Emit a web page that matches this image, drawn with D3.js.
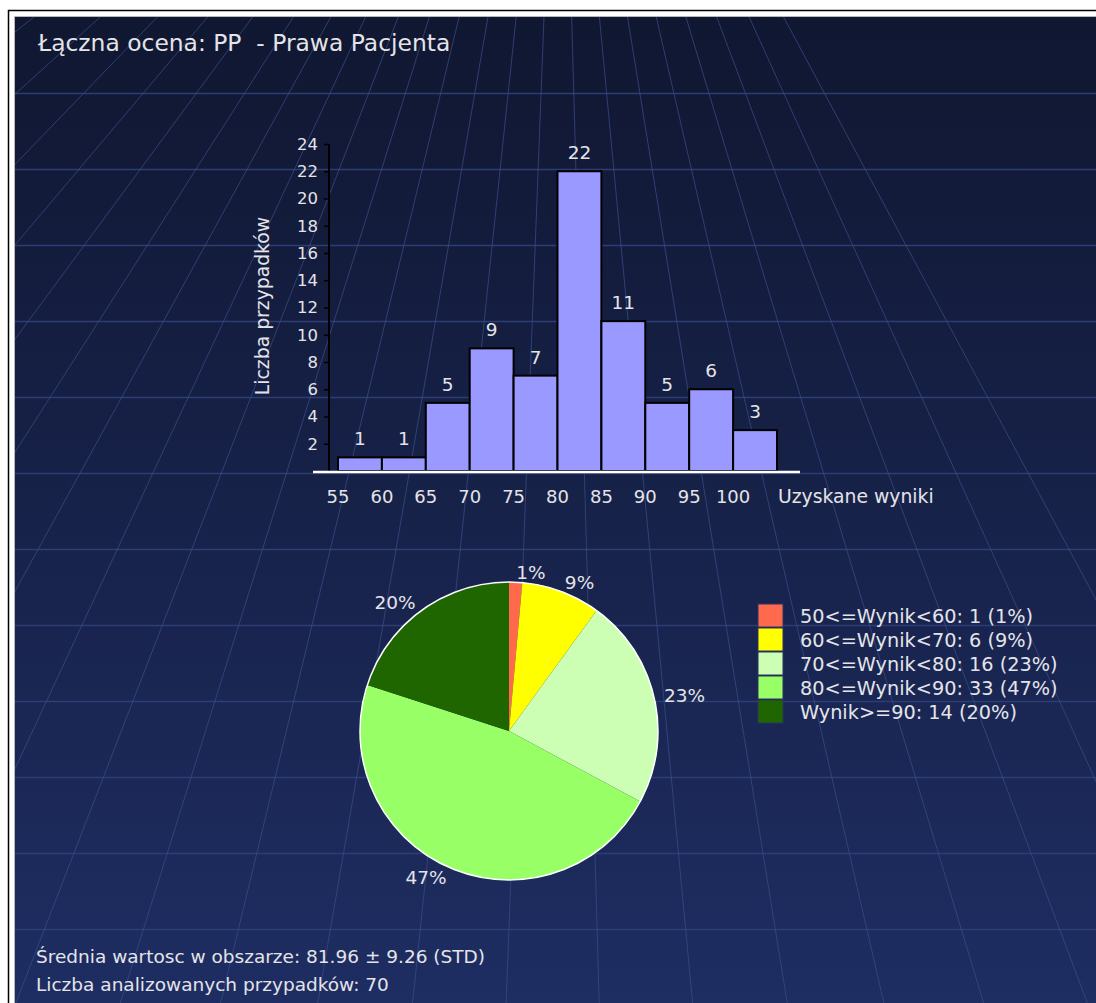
<!DOCTYPE html>
<html><head><meta charset="utf-8">
<script src="https://cdn.jsdelivr.net/npm/d3@7"></script>
<style>
html,body{margin:0;padding:0;background:#fff;}
svg{display:block;}
text{font-family:"DejaVu Sans",sans-serif;fill:#e4e4e8;}
</style>
</head><body>
<svg id="c" width="1096" height="1003"></svg>
<script>
// ---------- data ----------
const titleText = "Łączna ocena: PP  - Prawa Pacjenta";
const binStarts = [55, 60, 65, 70, 75, 80, 85, 90, 95, 100];
const binWidth = 5;
const counts = [1, 1, 5, 9, 7, 22, 11, 5, 6, 3];
const yTickValues = [2, 4, 6, 8, 10, 12, 14, 16, 18, 20, 22, 24];
const xTickLabels = ["55", "60", "65", "70", "75", "80", "85", "90", "95", "100"];
const xAxisTitle = "Uzyskane wyniki";
const yAxisTitle = "Liczba przypadków";
const pieCategories = ["50<=Wynik<60", "60<=Wynik<70", "70<=Wynik<80", "80<=Wynik<90", "Wynik>=90"];
const pieCounts = [1, 6, 16, 33, 14];
const piePercents = ["1%", "9%", "23%", "47%", "20%"];
const footerLines = ["Średnia wartosc w obszarze: 81.96 ± 9.26 (STD)", "Liczba analizowanych przypadków: 70"];

// ---------- setup ----------
const svg = d3.select("#c");
const W = 1096, H = 1003;
const panel = {x: 15, y: 17, w: W - 15, h: H - 17};

const defs = svg.append("defs");
const grad = defs.append("linearGradient").attr("id", "bg").attr("x1", 0).attr("y1", 0).attr("x2", 0).attr("y2", 1);
grad.append("stop").attr("offset", "0%").attr("stop-color", "#101731");
grad.append("stop").attr("offset", "100%").attr("stop-color", "#1e2d62");
defs.append("clipPath").attr("id", "pclip").append("rect")
  .attr("x", panel.x).attr("y", panel.y).attr("width", panel.w).attr("height", panel.h);

// frame
svg.append("rect").attr("x", panel.x).attr("y", panel.y).attr("width", panel.w).attr("height", panel.h).attr("fill", "url(#bg)");
svg.append("path").attr("d", `M8.5,${H}V10.5H${W}`).attr("fill", "none").attr("stroke", "#000").attr("stroke-width", 1.5);
svg.append("path").attr("d", `M14.5,${H}V16.5H${W}`).attr("fill", "none").attr("stroke", "#b8b8b8").attr("stroke-width", 1);

// background grid
const grid = svg.append("g").attr("clip-path", "url(#pclip)");
const hLines = d3.range(93, H, 76);
grid.selectAll("line.h").data(hLines).join("line")
  .attr("x1", panel.x).attr("x2", W).attr("y1", d => d + 0.5).attr("y2", d => d + 0.5)
  .attr("stroke", "#2c3e74").attr("stroke-width", 1.3);
const vp = {x: 560, y: -400};
const fanAngles = d3.range(-82, 32, 3.8);
grid.selectAll("line.f").data(fanAngles).join("line")
  .attr("x1", vp.x).attr("y1", vp.y)
  .attr("x2", a => vp.x + 4000 * Math.sin(a * Math.PI / 180))
  .attr("y2", a => vp.y + 4000 * Math.cos(a * Math.PI / 180))
  .attr("stroke", "#3a4f8c").attr("stroke-opacity", 0.7).attr("stroke-width", 1);

// title
svg.append("text").attr("x", 38).attr("y", 51).attr("font-size", 23.4)
  .attr("xml:space", "preserve").style("white-space", "pre").text(titleText);

// ---------- histogram ----------
const x = d3.scaleLinear().domain([55, 105]).range([338, 777]);
const y = d3.scaleLinear().domain([0, 24]).range([471, 144]);
const hist = svg.append("g");

// bars
hist.selectAll("rect.bar").data(binStarts).join("rect")
  .attr("x", d => x(d)).attr("width", d => x(d + binWidth) - x(d))
  .attr("y", (d, i) => y(counts[i])).attr("height", (d, i) => y(0) - y(counts[i]))
  .attr("fill", "#9999ff").attr("stroke", "#000").attr("stroke-width", 2);

// bar value labels
hist.selectAll("text.val").data(binStarts).join("text")
  .attr("x", d => x(d + binWidth / 2)).attr("y", (d, i) => y(counts[i]) - 12)
  .attr("text-anchor", "middle").attr("font-size", 18.5).text((d, i) => counts[i]);

// y axis
const yAxis = d3.axisLeft(y).tickValues(yTickValues).tickSize(5).tickPadding(4);
const yg = hist.append("g").attr("transform", `translate(${329},0)`).call(yAxis);
yg.select(".domain").attr("stroke", "#000").attr("stroke-width", 2).attr("d", `M0,${y(24)}V${y(0) + 1}`);
yg.selectAll(".tick line").attr("stroke", "#000").attr("stroke-width", 1.5);
yg.selectAll(".tick text").attr("font-size", 16.5).attr("fill", "#e4e4e8").attr("font-family", "DejaVu Sans").attr("dx", -2);

// x baseline
hist.append("line").attr("x1", x(55) - 25).attr("x2", x(105) + 23).attr("y1", y(0) + 1).attr("y2", y(0) + 1)
  .attr("stroke", "#fff").attr("stroke-width", 2.5);

// x tick labels
hist.selectAll("text.xt").data(binStarts).join("text")
  .attr("x", d => x(d)).attr("y", 503).attr("text-anchor", "middle").attr("font-size", 18)
  .text((d, i) => xTickLabels[i]);
hist.append("text").attr("x", 778).attr("y", 503).attr("font-size", 18.8).text(xAxisTitle);
hist.append("text").attr("transform", "translate(269,306) rotate(-90)").attr("text-anchor", "middle")
  .attr("font-size", 18.8).text(yAxisTitle);

// ---------- pie ----------
const cx = 509, cy = 731, R = 149;
const color = d3.scaleOrdinal().domain(pieCategories).range(["#ff6a4d", "#ffff00", "#ccffb3", "#99ff66", "#1f6600"]);
const pie = d3.pie().sort(null).value(d => d)(pieCounts);
const arc = d3.arc().innerRadius(0).outerRadius(R);
const pg = svg.append("g").attr("transform", `translate(${cx},${cy})`);
pg.selectAll("path").data(pie).join("path").attr("d", arc).attr("fill", (d, i) => color(pieCategories[i]));
pg.append("circle").attr("r", R).attr("fill", "none").attr("stroke", "#fff").attr("stroke-width", 1.5);
const LR = 159;
pg.selectAll("text").data(pie).join("text")
  .attr("x", d => LR * Math.sin((d.startAngle + d.endAngle) / 2))
  .attr("y", d => -LR * Math.cos((d.startAngle + d.endAngle) / 2))
  .attr("dy", "0.35em").attr("font-size", 18.5)
  .attr("text-anchor", d => ((d.startAngle + d.endAngle) / 2) > Math.PI ? "end" : "start")
  .text((d, i) => piePercents[i]);

// legend
const lg = svg.append("g").attr("transform", "translate(758,604)");
const rowH = 24;
lg.selectAll("rect").data(pieCategories).join("rect")
  .attr("x", 0).attr("y", (d, i) => i * rowH).attr("width", 25).attr("height", rowH - 1)
  .attr("fill", d => color(d)).attr("stroke", "#2a3560").attr("stroke-width", 1);
lg.selectAll("text").data(pieCategories).join("text")
  .attr("x", 42).attr("y", (d, i) => i * rowH + rowH / 2).attr("dy", "0.35em").attr("font-size", 19.3)
  .text((d, i) => `${d}: ${pieCounts[i]} (${piePercents[i]})`);

// footer
svg.selectAll("text.foot").data(footerLines).join("text").attr("class", "foot")
  .attr("x", 36).attr("y", (d, i) => 963 + i * 28).attr("font-size", 18.5).text(d => d);
</script>
</body></html>
